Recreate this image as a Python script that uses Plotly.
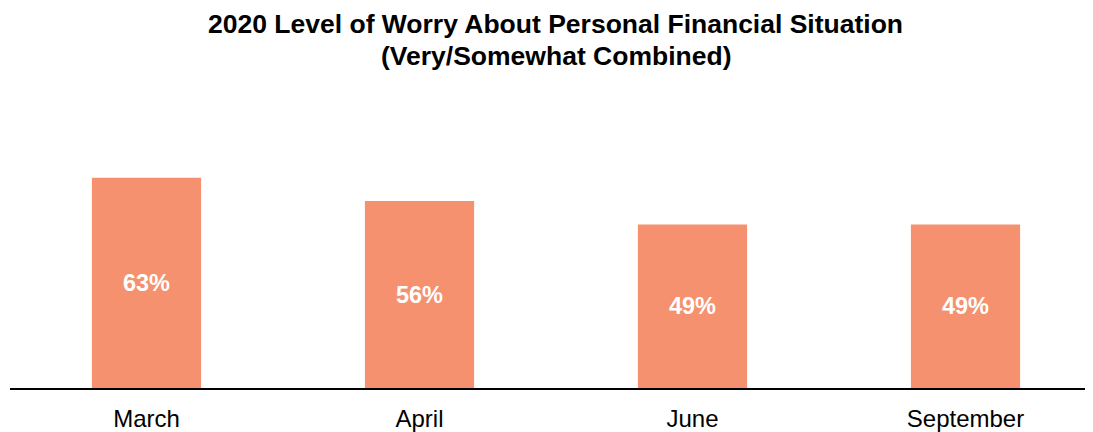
import plotly.graph_objects as go

categories = ["March", "April", "June", "September"]
values = [63, 56, 49, 49]
labels = ["<b>63%</b>", "<b>56%</b>", "<b>49%</b>", "<b>49%</b>"]

title_line1 = "<b>2020 Level of Worry About Personal Financial Situation</b>"
title_line2 = "<b>(Very/Somewhat Combined)</b>"

FONT = "Liberation Sans, Arial"

fig = go.Figure(
    go.Bar(
        x=categories,
        y=values,
        text=labels,
        textposition="inside",
        insidetextanchor="middle",
        textfont=dict(family=FONT, size=23.5, color="white"),
        marker=dict(color="#F5916E", line=dict(width=0)),
        hoverinfo="skip",
    )
)

fig.update_layout(
    width=1085,
    height=424,
    margin=dict(l=2, r=0, t=146, b=41),
    paper_bgcolor="white",
    plot_bgcolor="white",
    bargap=0.6,
    showlegend=False,
    font=dict(family=FONT, color="black"),
    xaxis=dict(
        range=[-0.5, 3.467],
        showline=True,
        linecolor="black",
        linewidth=1.5,
        showgrid=False,
        ticks="",
        ticklabelstandoff=8,
        tickfont=dict(family=FONT, size=24, color="black"),
        fixedrange=True,
    ),
    yaxis=dict(
        range=[0, 70.1],
        visible=False,
        showgrid=False,
        zeroline=False,
    ),
    annotations=[
        dict(text=title_line1, xref="paper", yref="paper", x=0.504, y=1.557,
             xanchor="center", yanchor="middle", showarrow=False,
             font=dict(family=FONT, size=26.5, color="black")),
        dict(text=title_line2, xref="paper", yref="paper", x=0.504, y=1.418,
             xanchor="center", yanchor="middle", showarrow=False,
             font=dict(family=FONT, size=26.5, color="black")),
    ],
)

fig.write_html("out.html")
